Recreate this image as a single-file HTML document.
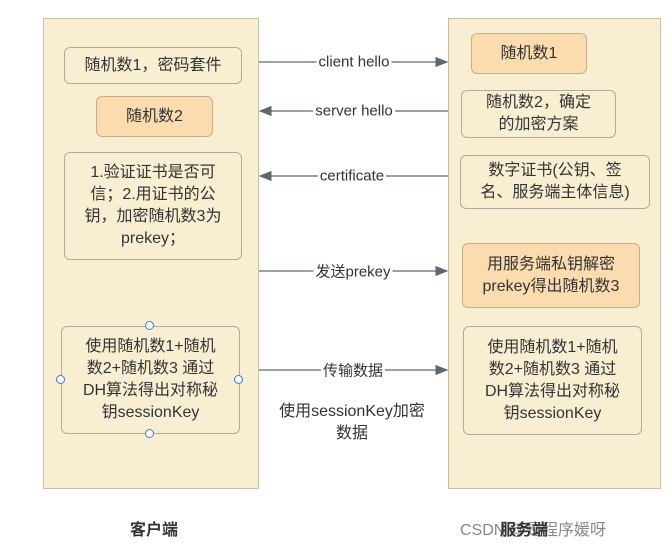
<!DOCTYPE html><html><head><meta charset="utf-8"><style>
body{margin:0;width:668px;height:548px;background:#fff;position:relative;overflow:hidden;font-family:"Liberation Sans","Noto Sans CJK SC",sans-serif;color:#333}
.c{position:absolute;background:#f8efd2;border:1px solid #cdbf9f;box-sizing:border-box}
.b{position:absolute;border:1px solid #b3aa97;border-radius:6px;box-sizing:border-box;display:flex;align-items:center;justify-content:center;text-align:center;font-size:16px;line-height:22px;background:#f8efd2}
.o{background:#fbdcae;border-color:#c9ae8b}
.l{position:absolute;font-size:15px;background:#fff;padding:0 2px;transform:translate(-50%,-50%);white-space:nowrap}
.h{position:absolute;width:7px;height:7px;border:1px solid #3b7be0;border-radius:50%;background:#fff}
</style></head><body>
<div class="c" style="left:43px;top:18px;width:216px;height:471px"></div>
<div class="c" style="left:448px;top:18px;width:213px;height:471px"></div>
<div class="b" style="left:64px;top:47px;width:178px;height:37px">随机数1，密码套件</div>
<div class="b o" style="left:96px;top:96px;width:117px;height:41px">随机数2</div>
<div class="b" style="left:64px;top:152px;width:178px;height:108px">1.验证证书是否可<br>信；2.用证书的公<br>钥，加密随机数3为<br>prekey；</div>
<div class="b" style="left:61px;top:326px;width:179px;height:108px">使用随机数1+随机<br>数2+随机数3 通过<br>DH算法得出对称秘<br>钥sessionKey</div>
<div class="h" style="left:145px;top:321px"></div><div class="h" style="left:145px;top:429px"></div>
<div class="h" style="left:56px;top:375px"></div><div class="h" style="left:234px;top:375px"></div>
<div class="b o" style="left:471px;top:33px;width:116px;height:41px">随机数1</div>
<div class="b" style="left:461px;top:90px;width:155px;height:48px">随机数2，确定<br>的加密方案</div>
<div class="b" style="left:460px;top:155px;width:190px;height:54px">数字证书(公钥、签<br>名、服务端主体信息)</div>
<div class="b o" style="left:462px;top:243px;width:178px;height:65px">用服务端私钥解密<br>prekey得出随机数3</div>
<div class="b" style="left:463px;top:326px;width:179px;height:109px">使用随机数1+随机<br>数2+随机数3 通过<br>DH算法得出对称秘<br>钥sessionKey</div>
<svg style="position:absolute;left:0;top:0" width="668" height="548">
<defs><marker id="a" markerWidth="10" markerHeight="8" refX="9" refY="4" orient="auto"><path d="M0,0L10,4L0,8z" fill="#5a6a70"/></marker></defs>
<g stroke="#5a6a70" stroke-width="1.3" marker-end="url(#a)">
<line x1="259" y1="62" x2="447" y2="62"/>
<line x1="448" y1="111" x2="260" y2="111"/>
<line x1="448" y1="176" x2="260" y2="176"/>
<line x1="259" y1="271" x2="447" y2="271"/>
<line x1="259" y1="370" x2="447" y2="370"/>
</g></svg>
<div class="l" style="left:354px;top:62px">client hello</div>
<div class="l" style="left:354px;top:111px">server hello</div>
<div class="l" style="left:352px;top:176px">certificate</div>
<div class="l" style="left:353px;top:271px">发送prekey</div>
<div class="l" style="left:353px;top:370px">传输数据</div>
<div style="position:absolute;left:262px;top:401px;width:180px;text-align:center;font-size:16px;line-height:22px">使用sessionKey加密<br>数据</div>
<div style="position:absolute;left:130px;top:516px;font-size:16px;font-weight:bold">客户端</div>
<div style="position:absolute;left:460px;top:516px;font-size:16px;color:#888">CSDN @是程序媛呀</div>
<div style="position:absolute;left:500px;top:516px;font-size:16px;font-weight:bold;color:#333">服务端</div>
</body></html>
